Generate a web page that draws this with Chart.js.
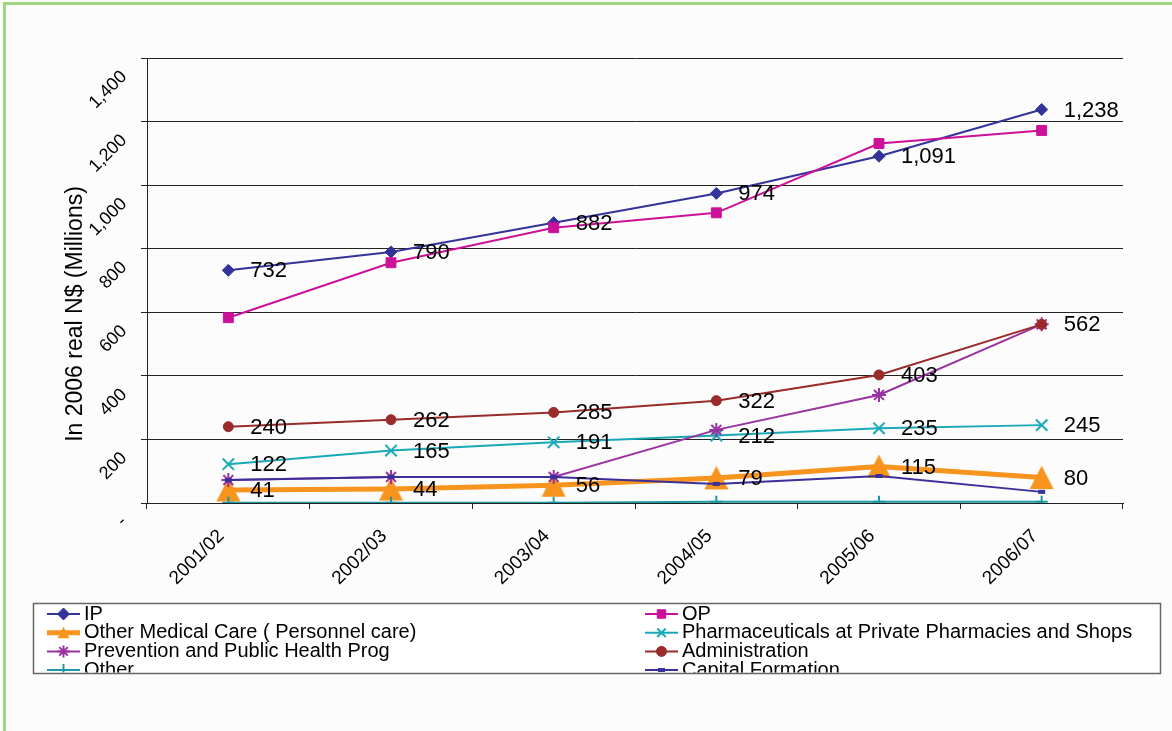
<!DOCTYPE html>
<html><head><meta charset="utf-8">
<script src="https://cdn.jsdelivr.net/npm/chart.js@4.4.0/dist/chart.umd.min.js"></script>
<style>
html,body{margin:0;padding:0;background:#fcfcfc;}
#wrap{position:relative;width:1172px;height:731px;overflow:hidden;}
#frame{position:absolute;left:3px;top:2px;width:1300px;height:900px;border-left:3px solid #a3d47f;border-top:3px solid #a3d47f;}
canvas{position:absolute;left:0;top:0;}
</style></head>
<body><div id="wrap"><div id="frame"></div><canvas id="c" width="1172" height="731"></canvas></div>
<script>
const categories = ['2001/02','2002/03','2003/04','2004/05','2005/06','2006/07'];
const ipValues = [732, 790, 882, 974, 1091, 1238];
const opValues = [583, 756, 866, 913, 1131, 1172];
const otherMedicalValues = [41, 44, 56, 79, 115, 80];
const pharmaValues = [122, 165, 191, 212, 235, 245];
const preventionValues = [72, 82, 82, 230, 340, 562];
const adminValues = [240, 262, 285, 322, 403, 562];
const otherValues = [1, 1, 1, 4, 4, 4];
const capitalValues = [72, 82, 82, 60, 85, 35];
const seriesNames = ['IP','OP','Other Medical Care ( Personnel care)','Pharmaceuticals at Private Pharmacies and Shops','Prevention and Public Health Prog','Administration','Other','Capital Formation'];
const yAxisTitle = 'In 2006 real N$ (Millions)';
const yMin = 0, yMax = 1400, yStep = 200;

function makeTriangle(size, color) {
  const c = document.createElement('canvas');
  c.width = size; c.height = size;
  const g = c.getContext('2d');
  g.fillStyle = color;
  g.beginPath();
  g.moveTo(size / 2, 0.5);
  g.lineTo(size - 0.5, size - 1);
  g.lineTo(0.5, size - 1);
  g.closePath();
  g.fill();
  return c;
}
const ORANGE = '#F7941D';
const triBig = makeTriangle(25, ORANGE);
const triSmall = makeTriangle(13, ORANGE);

function fmt(v) { return v === 0 ? '-' : v.toLocaleString('en-US'); }

const styles = [
  {color:'#333399', width:2, style:'rectRot', radius:6, bw:1, labels:true},
  {color:'#CC1199', width:2, style:'rect', radius:7, bw:1, labels:false},
  {color:ORANGE, width:5, style:triBig, radius:12, bw:1, labels:true, legendImg:triSmall},
  {color:'#17A9B7', width:2, style:'crossRot', radius:8, bw:2, labels:true},
  {color:'#9933A0', width:2, style:'star', radius:7, bw:2, labels:false},
  {color:'#992B2B', width:2, style:'circle', radius:5, bw:1, labels:true},
  {color:'#1A99A0', width:2, style:'cross', radius:6, bw:2, labels:false},
  {color:'#3B2F99', width:2, style:'line', radius:3.5, bw:4, labels:false}
];
const valueSets = [ipValues, opValues, otherMedicalValues, pharmaValues, preventionValues, adminValues, otherValues, capitalValues];

const datasets = valueSets.map((vals, i) => ({
  label: seriesNames[i],
  data: vals,
  borderColor: styles[i].color,
  backgroundColor: styles[i].color,
  borderWidth: styles[i].width,
  pointStyle: styles[i].style,
  pointRadius: styles[i].radius,
  pointBorderWidth: styles[i].bw,
  pointBackgroundColor: styles[i].color,
  pointBorderColor: styles[i].color,
  tension: 0,
  order: 7 - i,
  showLabels: styles[i].labels
}));

const extrasPlugin = {
  id: 'extras',
  afterDraw(chart) {
    const ctx = chart.ctx;
    const ys = chart.scales.y;
    // y tick labels rotated
    ctx.save();
    ctx.fillStyle = '#000';
    ctx.font = '18px "Liberation Sans", Arial, sans-serif';
    ys.ticks.forEach(t => {
      const py = ys.getPixelForValue(t.value);
      ctx.save();
      ctx.translate(124, py + 16);
      ctx.rotate(-Math.PI / 4);
      ctx.textAlign = 'right';
      ctx.textBaseline = 'middle';
      ctx.fillText(fmt(t.value), 0, 0);
      ctx.restore();
    });
    // y title
    ctx.save();
    ctx.translate(76, 314);
    ctx.rotate(-Math.PI / 2);
    ctx.textAlign = 'center';
    ctx.textBaseline = 'middle';
    ctx.font = '23px "Liberation Sans", Arial, sans-serif';
    ctx.fillText(yAxisTitle, 0, 0);
    ctx.restore();
    ctx.restore();

    // data labels
    ctx.save();
    ctx.font = '22px "Liberation Sans", Arial, sans-serif';
    ctx.fillStyle = '#000';
    ctx.textAlign = 'left';
    ctx.textBaseline = 'middle';
    chart.data.datasets.forEach((ds, i) => {
      if (!ds.showLabels) return;
      const meta = chart.getDatasetMeta(i);
      meta.data.forEach((el, j) => {
        ctx.fillText(fmt(ds.data[j]), el.x + 22, el.y + 1);
      });
    });
    ctx.restore();

    // legend
    const bx = 33, by = 603, bw = 1127, bh = 70;
    ctx.save();
    ctx.fillStyle = '#ffffff';
    ctx.fillRect(bx, by, bw, bh);
    ctx.strokeStyle = '#666';
    ctx.lineWidth = 1.5;
    ctx.strokeRect(bx + 0.5, by + 0.5, bw, bh);
    ctx.beginPath();
    ctx.rect(bx + 1.5, by + 1.5, bw - 2, bh - 2);
    ctx.clip();
    ctx.font = '20px "Liberation Sans", Arial, sans-serif';
    ctx.textBaseline = 'middle';
    ctx.textAlign = 'left';
    chart.data.datasets.forEach((ds, i) => {
      const col = i % 2, row = Math.floor(i / 2);
      const x0 = col ? 645 : 47;
      const y = 614 + row * 18.7;
      ctx.strokeStyle = ds.borderColor;
      ctx.lineWidth = ds.borderWidth;
      ctx.beginPath();
      ctx.moveTo(x0, y);
      ctx.lineTo(x0 + 33, y);
      ctx.stroke();
      const st = styles[i];
      if (st.legendImg) {
        ctx.drawImage(st.legendImg, x0 + 16.5 - st.legendImg.width / 2, y - st.legendImg.height / 2);
      } else {
        ctx.fillStyle = ds.borderColor;
        ctx.lineWidth = st.bw;
        Chart.helpers.drawPoint(ctx, {pointStyle: st.style, radius: Math.min(st.radius, 6), borderWidth: st.bw, rotation: 0}, x0 + 16.5, y);
      }
      ctx.fillStyle = '#000';
      ctx.fillText(ds.label, x0 + 37, y);
    });
    ctx.restore();
  }
};

new Chart(document.getElementById('c'), {
  type: 'line',
  data: { labels: categories, datasets: datasets },
  plugins: [extrasPlugin],
  options: {
    responsive: false,
    animation: false,
    events: [],
    layout: { padding: { left: 0, top: 58, right: 49, bottom: 118 } },
    plugins: { legend: { display: false }, tooltip: { enabled: false } },
    scales: {
      x: {
        offset: true,
        grid: { display: true, offset: true, drawOnChartArea: false, drawTicks: true, tickLength: 6, color: '#222' },
        border: { display: true, color: '#222', width: 1 },
        ticks: { color: '#000', font: { size: 19, family: '"Liberation Sans", Arial, sans-serif' }, minRotation: 45, maxRotation: 45, padding: 16, labelOffset: -7, autoSkip: false },
        afterFit: s => { s.height = 110; }
      },
      y: {
        min: yMin, max: yMax,
        grid: { color: '#222', lineWidth: 1, drawTicks: true, tickLength: 6 },
        border: { display: true, color: '#222', width: 1 },
        ticks: { display: false, stepSize: yStep },
        afterFit: s => { s.width = 147; }
      }
    }
  }
});
</script>
</body></html>
